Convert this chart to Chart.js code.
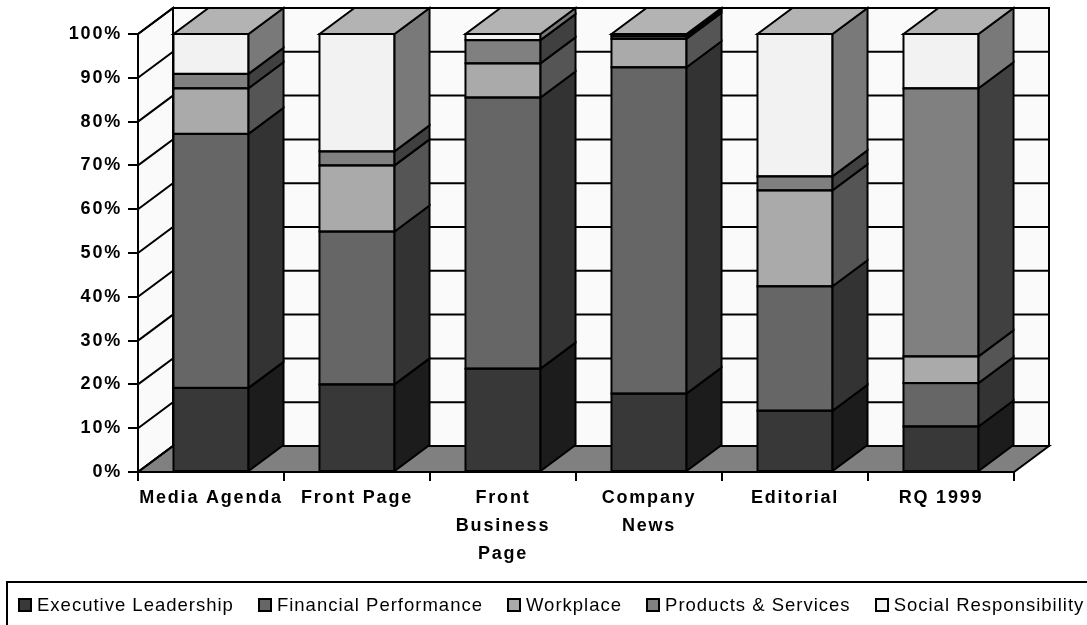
<!DOCTYPE html>
<html>
<head>
<meta charset="utf-8">
<title>Coverage by reputation driver</title>
<script src="https://cdn.jsdelivr.net/npm/chart.js@4.4.0/dist/chart.umd.min.js"></script>
<style>
  body { margin: 0; background: #fff; }
  #wrap { position: relative; width: 1087px; height: 625px; overflow: hidden; }
  #legend {
    position: absolute; left: 6px; top: 581px; width: 1100px; height: 60px;
    border: 2px solid #000; box-sizing: border-box; padding: 11px 0 0 10px;
    display: flex; align-items: flex-start;
    font-family: 'Liberation Sans', Arial, sans-serif; font-size: 18.5px; letter-spacing: 1px;
    line-height: 21px; color: #000; white-space: nowrap;
  }
  #legend .item { display: flex; align-items: center; margin-right: 24px; }
  #legend .swatch { width: 14px; height: 14px; box-sizing: border-box; border: 2px solid #000; margin-right: 5px; }
</style>
</head>
<body>
<div id="wrap">
  <canvas id="chart_rep" width="1087" height="625"></canvas>
  <div id="legend"></div>
</div>
<script>
// categories on the x axis (multi-line labels as arrays)
const categories = [['Media Agenda'], ['Front Page'], ['Front', 'Business', 'Page'], ['Company', 'News'], ['Editorial'], ['RQ 1999']];

// share of coverage per driver, %
const executiveLeadership  = [19.2, 20.0, 23.6, 17.9, 14.0, 10.4];
const financialPerformance = [58.0, 34.9, 61.9, 74.5, 28.4,  9.9];
const workplace            = [10.4, 15.1,  7.8,  6.5, 21.9,  6.1];
const productsServices     = [ 3.3,  3.2,  5.3,  0.6,  3.2, 61.2];
const socialResponsibility = [ 9.1, 26.8,  1.4,  0.5, 32.5, 12.4];

const seriesNames  = ['Executive Leadership', 'Financial Performance', 'Workplace', 'Products & Services', 'Social Responsibility'];
const seriesData   = [executiveLeadership, financialPerformance, workplace, productsServices, socialResponsibility];
const seriesColors = ['#383838', '#666666', '#aaaaaa', '#808080', '#f2f2f2'];

const yTicks = [0, 10, 20, 30, 40, 50, 60, 70, 80, 90, 100];

// depth of the fake 3d box
const DX = 35, DY = 26;
const WALL = '#fafafa', FLOOR = '#808080';

function shade(hex, f) {
    const n = parseInt(hex.slice(1), 16);
    const c = [(n >> 16) & 255, (n >> 8) & 255, n & 255].map(v => Math.round(v * f));
    return 'rgb(' + c.join(',') + ')';
}

function poly(ctx, pts, fill) {
    ctx.beginPath();
    ctx.moveTo(pts[0][0], pts[0][1]);
    for (let i = 1; i < pts.length; i++) ctx.lineTo(pts[i][0], pts[i][1]);
    ctx.closePath();
    if (fill) { ctx.fillStyle = fill; ctx.fill(); }
    ctx.stroke();
}

const box3d = {
    id: 'box3d',
    beforeLayout(chart) { chart.ctx.letterSpacing = '1.8px'; },
    beforeDraw(chart) { chart.ctx.letterSpacing = '1.8px'; },
    beforeDatasetsDraw(chart) {
        const { ctx, chartArea: a, scales: { y } } = chart;
        ctx.save();
        ctx.lineWidth = 2;
        ctx.strokeStyle = '#000';
        // side wall, back wall, floor
        poly(ctx, [[a.left, a.top], [a.left + DX, a.top - DY], [a.left + DX, a.bottom - DY], [a.left, a.bottom]], WALL);
        poly(ctx, [[a.left + DX, a.top - DY], [a.right + DX, a.top - DY], [a.right + DX, a.bottom - DY], [a.left + DX, a.bottom - DY]], WALL);
        poly(ctx, [[a.left, a.bottom], [a.left + DX, a.bottom - DY], [a.right + DX, a.bottom - DY], [a.right, a.bottom]], FLOOR);
        // gridlines on the walls
        ctx.beginPath();
        y.ticks.forEach(t => {
            const py = y.getPixelForValue(t.value);
            ctx.moveTo(a.left, py);
            ctx.lineTo(a.left + DX, py - DY);
            ctx.lineTo(a.right + DX, py - DY);
        });
        ctx.stroke();
        ctx.restore();
    },
    afterDatasetsDraw(chart) {
        const ctx = chart.ctx;
        const metas = chart.data.datasets.map((d, i) => chart.getDatasetMeta(i));
        ctx.save();
        ctx.lineWidth = 2;
        ctx.strokeStyle = '#000';
        ctx.lineJoin = 'miter';
        categories.forEach((c, j) => {
            let topIdx = -1;
            metas.forEach((m, i) => {
                const bar = m.data[j];
                const { x, y, base, width } = bar.getProps(['x', 'y', 'base', 'width'], true);
                const x1 = x + width / 2;
                const col = seriesColors[i];
                // front outline, then the right-hand side face
                ctx.strokeRect(x - width / 2, y, width, base - y);
                poly(ctx, [[x1, y], [x1 + DX, y - DY], [x1 + DX, base - DY], [x1, base]], shade(col, 0.5));
                if (seriesData[i][j] > 0) topIdx = i;
            });
            if (topIdx >= 0) {
                const bar = metas[topIdx].data[j];
                const { x, y, width } = bar.getProps(['x', 'y', 'width'], true);
                const x0 = x - width / 2, x1 = x + width / 2;
                poly(ctx, [[x0, y], [x0 + DX, y - DY], [x1 + DX, y - DY], [x1, y]], shade(seriesColors[topIdx], 0.74));
            }
        });
        ctx.restore();
    }
};

Chart.defaults.font.family = "'Liberation Sans', Arial, sans-serif";

const tickFont = { size: 18, weight: 'bold', lineHeight: '28px' };

const chart_rep = new Chart(document.getElementById('chart_rep'), {
    type: 'bar',
    data: {
        labels: categories,
        datasets: seriesNames.map((name, i) => ({
            label: name,
            data: seriesData[i],
            backgroundColor: seriesColors[i],
            borderWidth: 0,
            barPercentage: 0.514,
            categoryPercentage: 1
        }))
    },
    options: {
        responsive: false,
        animation: false,
        layout: { padding: { top: 34, right: 73, bottom: 50, left: 0 } },
        plugins: {
            legend: { display: false },
            tooltip: { enabled: false }
        },
        scales: {
            x: {
                stacked: true,
                grid: { drawOnChartArea: false, tickLength: 9, color: '#000', lineWidth: 2 },
                border: { color: '#000', width: 2 },
                ticks: { color: '#000', font: tickFont, padding: 3, maxRotation: 0, autoSkip: false },
                afterFit(scale) { scale.height = 103; }
            },
            y: {
                stacked: true,
                min: 0,
                max: 100,
                afterBuildTicks(scale) { scale.ticks = yTicks.map(v => ({ value: v })); },
                grid: { drawOnChartArea: false, tickLength: 10, color: '#000', lineWidth: 2 },
                border: { color: '#000', width: 2 },
                ticks: { color: '#000', font: tickFont, padding: 6, callback: v => v + '%' },
                afterFit(scale) { scale.width = 138; }
            }
        }
    },
    plugins: [box3d]
});

// legend below the plot, built from the datasets
const legendEl = document.getElementById('legend');
chart_rep.data.datasets.forEach(ds => {
    const item = document.createElement('div');
    item.className = 'item';
    const sw = document.createElement('span');
    sw.className = 'swatch';
    sw.style.background = ds.backgroundColor;
    const txt = document.createElement('span');
    txt.textContent = ds.label;
    item.appendChild(sw);
    item.appendChild(txt);
    legendEl.appendChild(item);
});
</script>
</body>
</html>
